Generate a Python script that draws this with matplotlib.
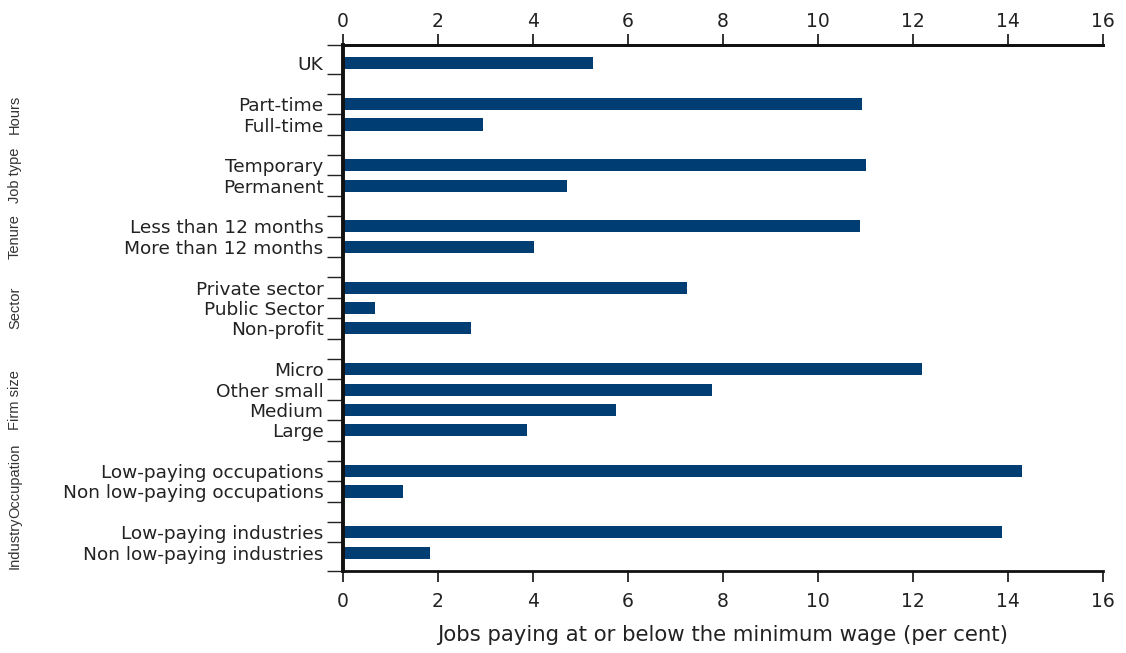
import matplotlib
matplotlib.use("Agg")
import matplotlib.pyplot as plt
import numpy as np

# Data (top to bottom); None = blank spacer row
categories = ["UK", None,
              "Part-time", "Full-time", None,
              "Temporary", "Permanent", None,
              "Less than 12 months", "More than 12 months", None,
              "Private sector", "Public Sector", "Non-profit", None,
              "Micro", "Other small", "Medium", "Large", None,
              "Low-paying occupations", "Non low-paying occupations", None,
              "Low-paying industries", "Non low-paying industries"]
values = [5.26, None,
          10.93, 2.95, None,
          11.02, 4.72, None,
          10.88, 4.02, None,
          7.24, 0.67, 2.69, None,
          12.19, 7.77, 5.75, 3.87, None,
          14.29, 1.26, None,
          13.87, 1.83]
groups = ["Hours", "Job type", "Tenure", "Sector", "Firm size", "Occupation", "Industry"]
group_rows = [(2, 3), (5, 6), (8, 9), (11, 13), (15, 18), (20, 21), (23, 24)]
x_ticks = [0, 2, 4, 6, 8, 10, 12, 14, 16]
xlabel = "Jobs paying at or below the minimum wage (per cent)"

color = "#003d73"
text_color = "#222222"
plt.rcParams["font.family"] = ["DejaVu Sans"]

fig = plt.figure(figsize=(11.26, 6.53), dpi=100)
ax = fig.add_axes([343 / 1126, 1 - 571 / 653, (1103 - 343) / 1126, (571 - 45) / 653])

pos = [i for i, v in enumerate(values) if v is not None]
vals = [values[i] for i in pos]
labs = [categories[i] for i in pos]
ax.barh(pos, vals, height=0.59, color=color)

ax.set_ylim(24.9, -0.9)
ax.set_xlim(0, 16)
ax.set_yticks(pos)
ax.set_yticklabels(labs, fontsize=13.3, color=text_color)
ax.tick_params(axis="y", which="major", length=0, pad=14)
minor = [-0.9] + [i + 0.5 for i in range(24)] + [24.9]
ax.set_yticks(minor, minor=True)
ax.tick_params(axis="y", which="minor", length=11.5, width=1.0, color=text_color)

ax.set_xticks(x_ticks)
ax.set_xticklabels([str(t) for t in x_ticks])
ax.tick_params(axis="x", which="major", top=False, labeltop=False, bottom=True, labelbottom=True,
               length=8, width=1.3, labelsize=13.5, color=text_color, labelcolor=text_color, pad=7)
ax.set_xlabel(xlabel, fontsize=15.3, color=text_color, labelpad=10)

sec = ax.secondary_xaxis("top")
sec.set_xticks(x_ticks)
sec.set_xticklabels([str(t) for t in x_ticks])
sec.tick_params(axis="x", length=8, width=1.3, labelsize=13.5, color=text_color,
                labelcolor=text_color, pad=2)
sec.spines["top"].set_linewidth(2)
sec.spines["top"].set_color("#111111")

ax.spines["right"].set_visible(False)
ax.spines["top"].set_linewidth(2)
ax.spines["bottom"].set_linewidth(2)
ax.spines["left"].set_linewidth(2.8)
for s in ["top", "bottom", "left"]:
    ax.spines[s].set_color("#111111")

for g, (a, b) in zip(groups, group_rows):
    yc = (a + b) / 2
    ax.annotate(g, xy=(0, yc), xycoords=("figure fraction", "data"),
                xytext=(15, 0), textcoords="offset pixels",
                rotation=90, ha="center", va="center", fontsize=10.5,
                family=["Liberation Sans", "DejaVu Sans"], color="#333333")

fig.savefig("out.png", dpi=100)
